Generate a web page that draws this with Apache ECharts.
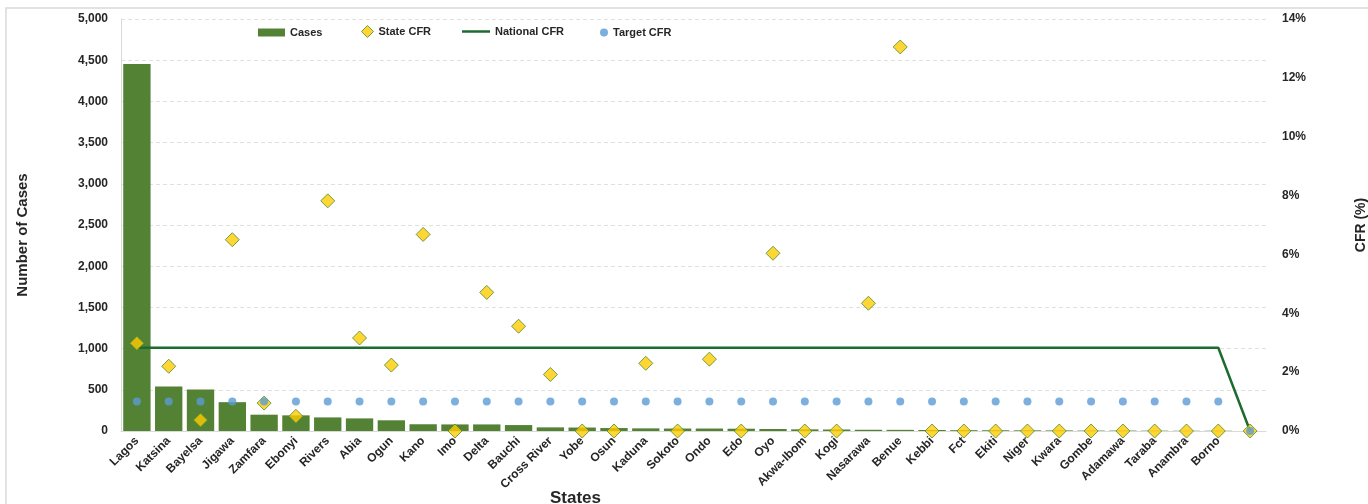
<!DOCTYPE html>
<html>
<head>
<meta charset="utf-8">
<script src="https://cdn.jsdelivr.net/npm/echarts@6/dist/echarts.min.js"></script>
<style>
html,body{margin:0;padding:0;background:#fff;overflow:hidden;}
#chart{width:1368px;height:504px;}
</style>
</head>
<body>
<div id="chart"></div>
<script>
const states = ['Lagos','Katsina','Bayelsa','Jigawa','Zamfara','Ebonyi','Rivers','Abia','Ogun','Kano','Imo','Delta','Bauchi','Cross River','Yobe','Osun','Kaduna','Sokoto','Ondo','Edo','Oyo','Akwa-Ibom','Kogi','Nasarawa','Benue','Kebbi','Fct','Ekiti','Niger','Kwara','Gombe','Adamawa','Taraba','Anambra','Borno',''];
const cases = [4455,540,505,350,198,190,165,153,130,82,80,80,72,44,42,36,32,30,30,28,24,20,18,15,14,12,10,9,8,7,5,5,4,3,3,0];
const stateCFR = [2.98,2.2,0.37,6.5,0.95,0.5,7.82,3.16,2.24,6.68,0,4.71,3.56,1.92,0,0,2.3,0,2.44,0,6.04,0,0,4.34,13.05,0,0,0,0,0,0,0,0,0,0,0];
const nationalCFR = [2.83,2.83,2.83,2.83,2.83,2.83,2.83,2.83,2.83,2.83,2.83,2.83,2.83,2.83,2.83,2.83,2.83,2.83,2.83,2.83,2.83,2.83,2.83,2.83,2.83,2.83,2.83,2.83,2.83,2.83,2.83,2.83,2.83,2.83,2.83,0];
const targetCFR = [1,1,1,1,1,1,1,1,1,1,1,1,1,1,1,1,1,1,1,1,1,1,1,1,1,1,1,1,1,1,1,1,1,1,1,0];
const leftTicks = {min:0,max:5000,interval:500};
const rightTicks = {min:0,max:14,interval:2};

const FONT = 'Liberation Sans';
const legendText = {fontFamily:FONT,fontWeight:'bold',fontSize:11,color:'#262626'};
const chart = echarts.init(document.getElementById('chart'));
chart.setOption({
  animation:false,
  textStyle:{fontFamily:FONT},
  graphic:[{type:'rect',shape:{x:6,y:8,width:1400,height:520},style:{fill:'none',stroke:'#d9d9d9',lineWidth:1.5},silent:true,z:-1}],
  legend:[
    {top:27,left:258,padding:0,itemWidth:27,itemHeight:8,itemGap:4,textStyle:legendText,
      data:[{name:'Cases',icon:'rect'}]},
    {top:25,left:361,padding:0,itemWidth:12,itemHeight:12,textStyle:legendText,
      data:[{name:'State CFR',icon:'diamond',itemStyle:{color:'#FFCC00',borderColor:'#4E8A2E',borderWidth:1}}]},
    {top:26,left:462,padding:0,itemWidth:28,itemHeight:10,textStyle:legendText,itemGap:3,
      data:[{name:'National CFR',icon:'path://M0,4 L28,4 L28,6.5 L0,6.5 Z'}]},
    {top:27,left:600,padding:0,itemWidth:8,itemHeight:8,textStyle:legendText,itemGap:6,
      data:[{name:'Target CFR',icon:'circle'}]}
  ],
  grid:{left:121,right:102,top:19,bottom:73,containLabel:false,outerBoundsMode:'none'},
  xAxis:{
    type:'category',data:states,
    name:'States',nameLocation:'middle',nameGap:59,nameMoveOverlap:false,
    nameTextStyle:{fontFamily:FONT,fontWeight:'bold',fontSize:17,color:'#262626',padding:[0,236,0,0],verticalAlign:'top'},
    axisLine:{show:true,lineStyle:{color:'#d9d9d9',width:1}},
    axisTick:{show:false},
    axisLabel:{interval:0,rotate:45,fontFamily:FONT,fontWeight:'bold',fontSize:12,color:'#262626',margin:8}
  },
  yAxis:[{
    type:'value',min:leftTicks.min,max:leftTicks.max,interval:leftTicks.interval,
    name:'Number of Cases',nameLocation:'middle',nameGap:91,nameRotate:90,
    nameTextStyle:{fontFamily:FONT,fontWeight:'bold',fontSize:15,color:'#262626',padding:[0,20,0,0]},
    axisLine:{show:true,lineStyle:{color:'#d9d9d9'}},axisTick:{show:false},
    axisLabel:{fontFamily:FONT,fontWeight:'bold',fontSize:12,color:'#262626',margin:13,
      formatter:v=>v.toLocaleString('en-US')},
    splitLine:{show:true,lineStyle:{color:'#e0e0e0',type:[4,3],width:1}}
  },{
    type:'value',min:rightTicks.min,max:rightTicks.max,interval:rightTicks.interval,
    name:'CFR (%)',nameLocation:'middle',nameGap:88,nameRotate:90,
    nameTextStyle:{fontFamily:FONT,fontWeight:'bold',fontSize:14,color:'#262626'},
    axisLine:{show:false},axisTick:{show:false},
    axisLabel:{fontFamily:FONT,fontWeight:'bold',fontSize:12,color:'#262626',margin:16,formatter:'{value}%'},
    splitLine:{show:false}
  }],
  series:[
    {name:'Cases',type:'bar',data:cases,yAxisIndex:0,barCategoryGap:'14%',
      itemStyle:{color:'#548235'},z:1},
    {name:'National CFR',type:'line',data:nationalCFR,yAxisIndex:1,symbol:'none',
      lineStyle:{color:'#1E6B30',width:2.5},itemStyle:{color:'#1E6B30'},z:2},
    {name:'State CFR',type:'scatter',data:stateCFR,yAxisIndex:1,symbol:'diamond',symbolSize:[14,14],
      itemStyle:{color:'#FFCC00',borderColor:'#4E8A2E',borderWidth:1},z:3},
    {name:'Target CFR',type:'scatter',data:targetCFR,yAxisIndex:1,symbol:'circle',symbolSize:8,
      itemStyle:{color:'#5B9BD5'},z:4}
  ]
});
</script>
</body>
</html>
